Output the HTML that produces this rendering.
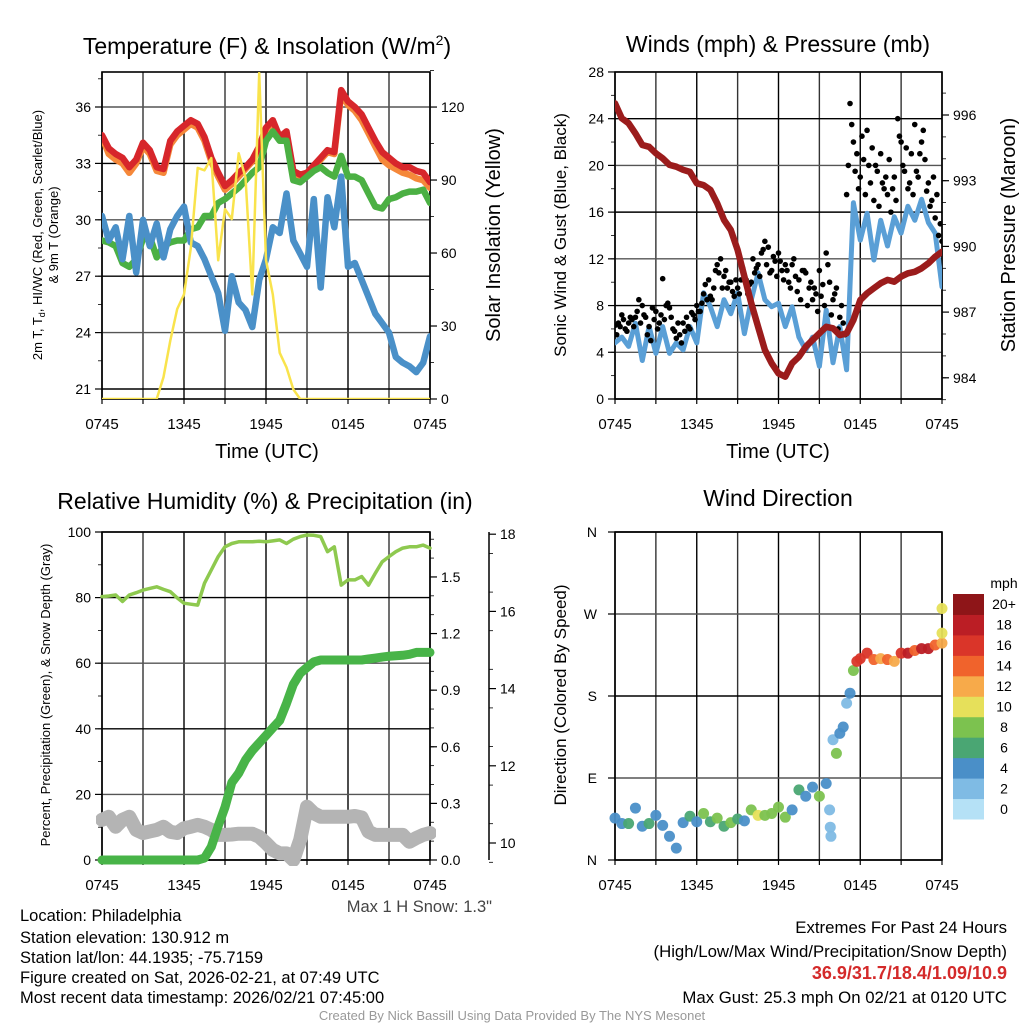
<!DOCTYPE html>
<html><head><meta charset="utf-8"><style>
html,body{margin:0;padding:0;background:#fff;}
svg{display:block;font-family:"Liberation Sans",sans-serif;}
</style></head><body>
<svg id="c" width="1024" height="1024" viewBox="0 0 1024 1024">
<defs>
<clipPath id="cp1"><rect x="102" y="72" width="328" height="327"/></clipPath>
<clipPath id="cp2"><rect x="615" y="72" width="327" height="327"/></clipPath>
<clipPath id="cp3"><rect x="96" y="526" width="340" height="340"/></clipPath>
<clipPath id="cp4"><rect x="609" y="526" width="345" height="340"/></clipPath>
</defs>
<g id="g1"></g>
<g id="g2"></g>
<g id="g3"></g>
<g id="g4"></g>
<g id="gt">
<text x="267" y="54" font-size="23" text-anchor="middle">Temperature (F) &amp; Insolation (W/m<tspan font-size="14" dy="-9">2</tspan><tspan dy="9">)</tspan></text>
<text x="778" y="52" font-size="23" text-anchor="middle">Winds (mph) &amp; Pressure (mb)</text>
<text x="265" y="509" font-size="23" text-anchor="middle">Relative Humidity (%) &amp; Precipitation (in)</text>
<text x="778" y="506" font-size="23" text-anchor="middle">Wind Direction</text>
<text x="267" y="458" font-size="20" text-anchor="middle">Time (UTC)</text>
<text x="778" y="458" font-size="20" text-anchor="middle">Time (UTC)</text>
<text transform="translate(42,235) rotate(-90)" font-size="13" text-anchor="middle">2m T, T<tspan font-size="9" dy="3">d</tspan><tspan dy="-3">, HI/WC (Red, Green, Scarlet/Blue)</tspan></text>
<text transform="translate(58,235) rotate(-90)" font-size="13" text-anchor="middle">&amp; 9m T (Orange)</text>
<text transform="translate(500,235) rotate(-90)" font-size="20" text-anchor="middle">Solar Insolation (Yellow)</text>
<text transform="translate(566,235) rotate(-90)" font-size="17" text-anchor="middle">Sonic Wind &amp; Gust (Blue, Black)</text>
<text transform="translate(1015,235) rotate(-90)" font-size="20" text-anchor="middle">Station Pressure (Maroon)</text>
<text transform="translate(50,695) rotate(-90)" font-size="13" text-anchor="middle">Percent, Precipitation (Green), &amp; Snow Depth (Gray)</text>
<text transform="translate(566,695) rotate(-90)" font-size="17" text-anchor="middle">Direction (Colored By Speed)</text>
<text x="492" y="912" font-size="16.5" fill="#444" text-anchor="end">Max 1 H Snow: 1.3"</text>
<g font-size="16.5">
<text x="20" y="921">Location: Philadelphia</text>
<text x="20" y="943">Station elevation: 130.912 m</text>
<text x="20" y="963">Station lat/lon: 44.1935; -75.7159</text>
<text x="20" y="983">Figure created on Sat, 2026-02-21, at 07:49 UTC</text>
<text x="20" y="1003">Most recent data timestamp: 2026/02/21 07:45:00</text>
</g>
<g font-size="16.8" text-anchor="end">
<text x="1007" y="933">Extremes For Past 24 Hours</text>
<text x="1007" y="957">(High/Low/Max Wind/Precipitation/Snow Depth)</text>
<text x="1007" y="979" fill="#d42a2a" font-weight="bold" font-size="18">36.9/31.7/18.4/1.09/10.9</text>
<text x="1007" y="1003">Max Gust: 25.3 mph On 02/21 at 0120 UTC</text>
</g>
<text x="512" y="1020" font-size="13" fill="#999" text-anchor="middle">Created By Nick Bassill Using Data Provided By The NYS Mesonet</text>
</g>
</svg>
<script>
// ---- data (half-hourly, hours since 0745 UTC) ----
const xTickLabels = ["0745","1345","1945","0145","0745"];
const tempRed = [34.5,33.8,33.5,33.3,32.8,33.2,34.1,33.7,32.8,32.7,34.2,34.7,35.0,35.3,35.1,34.4,33.3,32.5,31.8,32.1,32.5,32.8,33.2,33.9,34.9,35.3,34.4,34.7,32.6,32.4,32.5,32.9,33.3,33.7,33.6,36.9,36.3,36.0,35.6,34.9,34.2,33.6,33.3,33.0,32.8,32.8,32.6,32.5,32.0];
const temp9m = [34.4,33.5,33.2,33.0,32.5,33.0,33.9,33.5,32.6,32.5,34.0,34.5,34.8,35.1,34.9,34.2,33.1,32.3,31.6,31.9,32.3,32.7,33.1,33.8,34.8,35.2,34.3,34.6,32.5,32.3,32.4,32.8,33.2,33.6,33.5,36.7,36.1,35.8,35.3,34.6,33.9,33.2,32.9,32.7,32.5,32.4,32.2,32.1,31.7];
const dewGreen = [28.9,28.8,28.6,27.7,27.5,27.9,29.0,29.1,28.0,28.6,28.8,28.9,28.9,29.5,29.6,30.2,30.2,30.9,31.1,31.4,31.7,32.1,32.5,32.8,34.2,34.7,34.2,34.2,32.1,32.0,32.3,32.6,32.8,32.5,32.3,33.4,32.3,32.3,32.1,31.4,30.7,30.6,31.1,31.2,31.4,31.5,31.5,31.6,30.9];
const windChill = [30.2,28.9,29.6,27.9,30.2,27.2,30.0,28.6,29.8,28.0,29.5,30.2,30.7,28.8,28.6,27.9,27.0,26.1,24.1,27.0,25.6,25.2,24.3,26.8,27.9,29.6,29.3,31.4,28.9,28.2,27.5,31.1,26.4,31.2,29.6,32.3,27.5,27.7,26.8,25.9,25.0,24.5,24.0,22.7,22.4,22.2,21.9,22.4,23.8];
const solar = [0,0,0,0,0,0,0,0,0,9,24,37,43,62,95,94,99,57,78,74,101,91,43,134,57,43,19,13,4,0,0,0,0,0,0,0,0,0,0,0,0,0,0,0,0,0,0,0,0];
const tempTicks = [21,24,27,30,33,36];
const solarTicks = [0,30,60,90,120];

const pressure = [996.53,995.85,995.62,995.16,994.63,994.55,994.25,994.02,993.72,993.64,993.5,993.4,992.88,992.8,992.58,991.97,991.21,990.75,989.84,988.62,987.40,986.33,985.27,984.66,984.20,984.05,984.66,984.96,985.42,985.73,986.03,986.33,986.26,985.95,986.03,986.64,987.55,987.86,988.09,988.32,988.47,988.39,988.62,988.77,988.84,989.00,989.23,989.53,989.76];
const windSpeed = [4.8,5.3,4.5,6.5,3.3,6.2,3.9,6.2,3.9,4.8,4.2,6.2,4.8,9.1,7.9,6.2,8.5,7.3,9.1,5.6,8.5,10.8,8.5,7.9,8.2,6.2,7.9,5.3,4.2,5.3,2.8,7.6,3.1,6.2,2.5,16.8,13.6,15.9,11.9,15.3,13.1,15.6,14.2,16.5,15.3,17.1,15.1,14.2,9.6];
const gustA = [6.3,6.5,7.2,6.0,6.5,6.8,7.0,8.5,8.0,7.0,6.2,7.8,7.5,6.5,10.3,8.0,7.8,6.0,5.2,5.5,6.5,7.0,6.0,7.2,8.0,7.5,9.0,8.5,8.8,9.5,11.5,12.0,10.5,9.5,10.0,8.8,9.5,10.2,10.5,9.0,10.0,10.8,11.5,12.5,13.5,13.0,11.0,11.8,12.5,11.0,11.5,10.0,11.5,10.5,10.2,11.0,10.8,9.5,8.5,9.0,11.0,9.8,12.5,10.0,8.5,9.5,7.0,6.5,17.5,25.3,22.0,21.0,19.0,20.5,23.0,18.5,17.0,19.5,21.0,18.0,17.5,16.0,19.0,24.0,22.0,19.5,18.0,21.0,23.5,19.0,22.0,20.5,18.5,17.0,15.5,14.0,13.5];
const gustB = [5.5,6.2,6.8,5.8,7.0,6.2,7.5,6.5,7.2,5.5,5.0,6.8,6.0,7.2,6.8,8.2,7.0,5.8,6.5,4.8,5.8,6.2,7.4,6.8,7.5,8.2,9.8,10.2,8.5,11.0,10.8,9.5,11.0,10.0,9.2,10.2,9.0,11.2,10.2,9.8,12.0,11.2,10.5,12.8,11.5,10.8,12.2,10.5,11.8,10.2,11.0,9.5,12.0,9.2,8.5,11.0,8.0,10.0,9.5,7.5,8.8,8.0,11.5,7.2,9.0,6.0,8.0,5.5,20.0,23.5,19.5,18.0,22.5,17.5,20.0,21.5,20.0,16.5,18.5,19.0,20.5,18.0,17.0,22.5,20.0,21.5,18.5,17.5,19.5,21.0,23.0,17.8,16.5,19.0,17.5,15.0];
const windTicks = [0,4,8,12,16,20,24,28];
const pressTicks = [984,987,990,993,996];

const relHum = [80.3,80.5,80.8,78.8,80.8,81.5,82.3,82.8,83.3,82.5,81.8,79.9,78.3,78.0,77.7,84.4,88.4,92.5,95.5,96.5,97.0,97.0,97.0,97.2,97.0,97.3,97.6,96.5,97.8,98.6,99.1,99.0,98.6,94.0,95.5,83.8,85.4,85.4,86.4,83.8,87.4,90.9,92.5,94.0,95.1,95.5,95.5,96.0,95.1];
const precip = [0,0,0,0,0,0,0,0,0,0,0,0,0,0,0,0.01,0.07,0.18,0.28,0.41,0.46,0.53,0.58,0.62,0.66,0.70,0.74,0.83,0.93,0.99,1.02,1.05,1.06,1.06,1.06,1.06,1.06,1.06,1.06,1.065,1.07,1.075,1.08,1.082,1.085,1.09,1.10,1.10,1.10];
const snowDepth = [10.6,10.68,10.42,10.6,10.68,10.34,10.26,10.3,10.34,10.42,10.29,10.26,10.38,10.42,10.47,10.42,10.34,10.21,10.21,10.22,10.24,10.24,10.24,10.16,10.0,9.82,9.73,9.73,9.56,10.08,10.94,10.77,10.68,10.68,10.68,10.68,10.68,10.7,10.66,10.29,10.21,10.21,10.21,10.21,10.21,10.03,10.13,10.21,10.26];
const rhTicks = [0,20,40,60,80,100];
const precipTicks = [0.0,0.3,0.6,0.9,1.2,1.5];
const snowTicks = [10,12,14,16,18];

const dirTimes = [0,0.5,1,1.5,2,2.5,3,3.5,4,4.5,5,5.5,6,6.5,7,7.5,8,8.5,9,9.5,10,10.5,11,11.5,12,12.5,13,13.5,14,14.5,15,15.5,15.75,15.8,15.85,16,16.25,16.5,16.75,17,17.25,17.5,17.75,18,18.5,19,19.5,20,20.5,21,21.5,22,22.5,23,23.5,24,24,24];
const dirDeg = [46,40,40,57,37,40,49,38,26,13,41,48,42,51,42,46,37,41,45,43,55,49,49,51,58,47,55,77,70,80,70,84,55,36,26,132,117,139,146,172,183,208,218,221,227,220,221,220,218,227,227,230,232,232,236,238,249,276];
const dirSpeed = [4,4,6,4,4,6,4,4,4,4,4,6,4,8,6,8,6,8,6,4,8,10,8,8,8,8,4,6,4,4,8,4,2,2,2,2,8,4,4,2,4,8,16,16,16,14,12,14,12,16,18,14,18,18,14,12,10,10];
const dirLabels = ["N","E","S","W","N"];
const speedBins = ["0","2","4","6","8","10","12","14","16","18","20+"];
const binColors = ["#b5e1f6","#7fbbe4","#4a8fc8","#4aa673","#7cc24f","#e6e05a","#f7aa4a","#f0632c","#da3529","#bb1e25","#8e1518"];

// ---- helpers ----
const NS="http://www.w3.org/2000/svg";
function mk(parent,tag,attrs){const e=document.createElementNS(NS,tag);for(const k in attrs)e.setAttribute(k,attrs[k]);parent.appendChild(e);return e;}
function ht(i){return i*0.5;}
function poly(parent,xs,ys,vals,color,w,name){
  let d="";vals.forEach((v,i)=>{d+=(i?"L":"M")+xs(ht(i)).toFixed(1)+","+ys(v).toFixed(1);});
  const p=mk(parent,"path",{d:d,fill:"none",stroke:color,"stroke-width":w,"stroke-linejoin":"round","stroke-linecap":"round"});
  
  
  return p;
}
function frame(g,x0,y0,x1,y1,xs,hvals,hy){
  for(let h=0;h<=24;h+=3){const l=mk(g,"line",{x1:xs(h),x2:xs(h),y1:y0,y2:y1,stroke:(h%6?"#333":"#000"),"stroke-width":1.4});
    
    mk(g,"line",{x1:xs(h),x2:xs(h),y1:y1,y2:y1+5,stroke:"#000","stroke-width":1.2});}
  hvals.forEach((v,i)=>{const l=mk(g,"line",{x1:x0,x2:x1,y1:hy(v),y2:hy(v),stroke:(i%2?"#555":"#000"),"stroke-width":1.4});
    });
  const r=mk(g,"rect",{x:x0,y:y0,width:x1-x0,height:y1-y0,fill:"none",stroke:"#000","stroke-width":1.6});
  
  xTickLabels.forEach((s,i)=>{const t=mk(g,"text",{x:xs(i*6),y:y1+30,"font-size":15,"text-anchor":"middle"});t.textContent=s;
    });
}
function yTicks(g,xa,vals,ys,side,fmt,minorStep,lo,hi){
  vals.forEach(v=>{const y=ys(v);mk(g,"line",{x1:xa,x2:xa+side*7,y1:y,y2:y,stroke:"#000","stroke-width":1.2});
    const t=mk(g,"text",{x:xa+side*11,y:y+5,"font-size":14,"text-anchor":side<0?"end":"start"});t.textContent=fmt(v);
    });
  if(minorStep){for(let v=lo;v<=hi+1e-9;v+=minorStep){mk(g,"line",{x1:xa,x2:xa+side*4,y1:ys(v),y2:ys(v),stroke:"#000","stroke-width":0.8});}}
}

// ---- panel 1 ----
const g1=document.getElementById("g1");
const x1=t=>102+t*328/24, yT=v=>389-(v-21)*18.8, yS=v=>399-v*2.433;
frame(g1,102,72,430,399,x1,tempTicks,yT);
yTicks(g1,102,tempTicks,yT,-1,v=>String(v),1.5,21,37.5);
yTicks(g1,430,solarTicks,yS,1,v=>String(v),15,0,135);
const c1=mk(g1,"g",{"clip-path":"url(#cp1)"});
poly(c1,x1,yT,temp9m,"#f5883a",6.5,"series-9m-temp");
poly(c1,x1,yT,tempRed,"#d7262b",6.5,"series-2m-temp");
poly(c1,x1,yT,dewGreen,"#4bb043",6.5,"series-dewpoint");
poly(c1,x1,yT,windChill,"#4a90c8",6.5,"series-windchill");
poly(c1,x1,yS,solar,"#f9e34c",2.5,"series-solar");

// ---- panel 2 ----
const g2=document.getElementById("g2");
const x2=t=>615+t*327/24, yW=v=>399-v*11.68, yP=p=>115+(996-p)*21.9;
frame(g2,615,72,942,399,x2,windTicks,yW);
yTicks(g2,615,windTicks,yW,-1,v=>String(v),2,0,28);
yTicks(g2,942,pressTicks,yP,1,v=>String(v),1,983,997);
const c2=mk(g2,"g",{"clip-path":"url(#cp2)"});
poly(c2,x2,yW,windSpeed,"#5a9fd6",5,"series-wind-speed");
gustA.forEach((v,i)=>{const c=mk(c2,"circle",{cx:x2(i*0.25),cy:yW(v),r:2.8,fill:"#000"});
  });
gustB.forEach((v,i)=>{const c=mk(c2,"circle",{cx:x2(0.125+i*0.25),cy:yW(v),r:2.8,fill:"#000"});
  });
poly(c2,x2,yP,pressure,"#9b1c1c",6.5,"series-pressure");

// ---- panel 3 ----
const g3=document.getElementById("g3");
const x3=t=>102+t*328/24, yRH=v=>860-v*3.28, yPr=v=>860-v*188.7, ySn=v=>843-(v-10)*38.6;
frame(g3,102,532,430,860,x3,rhTicks,yRH);
yTicks(g3,102,rhTicks,yRH,-1,v=>String(v),10,0,100);
yTicks(g3,430,precipTicks,yPr,1,v=>v.toFixed(1),0.1,0,1.7);
const sa=mk(g3,"line",{x1:489,x2:489,y1:532,y2:860,stroke:"#000","stroke-width":1.5});

yTicks(g3,489,snowTicks,ySn,1,v=>String(v),1,9.5,18);
const c3=mk(g3,"g",{"clip-path":"url(#cp3)"});
poly(c3,x3,ySn,snowDepth,"#b4b4b4",14,"series-snow-depth");
poly(c3,x3,yPr,precip,"#48b448",9,"series-precipitation");
poly(c3,x3,yRH,relHum,"#8ec94f",3.5,"series-humidity");

// ---- panel 4 ----
const g4=document.getElementById("g4");
const x4=t=>615+t*327/24, yD=d=>860-d*328/360;
frame(g4,615,532,942,860,x4,[0,90,180,270,360],yD);
dirLabels.forEach((s,i)=>{const y=yD(i*90);mk(g4,"line",{x1:615,x2:608,y1:y,y2:y,stroke:"#000","stroke-width":1.2});
  const t=mk(g4,"text",{x:597,y:y+5,"font-size":14,"text-anchor":"end"});t.textContent=s;
  });
const c4=mk(g4,"g",{"clip-path":"url(#cp4)"});
dirDeg.forEach((d,i)=>{const b=Math.min(10,Math.floor(dirSpeed[i]/2));
  const c=mk(c4,"circle",{cx:x4(dirTimes[i]),cy:yD(d),r:5.5,fill:binColors[b],"fill-opacity":0.95});
  });
// colorbar
const cb=mk(g4,"g",{});

const bh=225/speedBins.length;
speedBins.forEach((s,i)=>{const y=819-(i+1)*bh;
  mk(cb,"rect",{x:953,y:y,width:31,height:bh+0.5,fill:binColors[i]});
  const t=mk(cb,"text",{x:1004,y:y+bh/2+5,"font-size":14,"text-anchor":"middle"});t.textContent=s;
  });
const mt=mk(cb,"text",{x:1004,y:588,"font-size":14,"text-anchor":"middle"});mt.textContent="mph";

</script>
</body></html>
